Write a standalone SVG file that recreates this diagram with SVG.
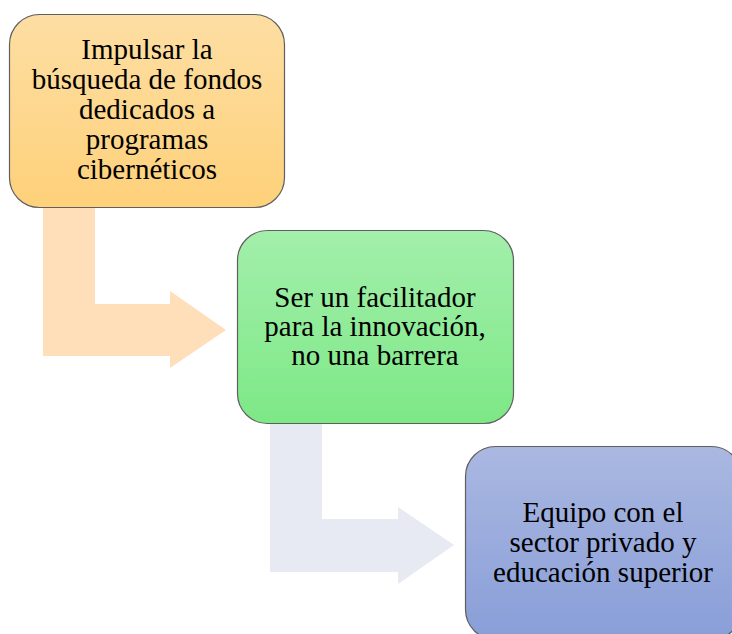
<svg xmlns="http://www.w3.org/2000/svg" width="732" height="634" viewBox="0 0 732 634">
  <defs>
    <linearGradient id="gOrange" x1="0" y1="0" x2="0" y2="1">
      <stop offset="0" stop-color="#FDDEA3"/>
      <stop offset="1" stop-color="#FED17A"/>
    </linearGradient>
    <linearGradient id="gGreen" x1="0" y1="0" x2="0" y2="1">
      <stop offset="0" stop-color="#A3EFAB"/>
      <stop offset="1" stop-color="#7DE886"/>
    </linearGradient>
    <linearGradient id="gBlue" x1="0" y1="0" x2="0" y2="1">
      <stop offset="0" stop-color="#AAB8E1"/>
      <stop offset="1" stop-color="#899ED8"/>
    </linearGradient>
  </defs>
  <style>
    .box { stroke: #5f5f5f; stroke-width: 1.2; }
    text { font-family: 'Liberation Serif', 'DejaVu Serif', serif; font-size: 29px; fill: #000; text-anchor: middle; }
  </style>
  <rect width="732" height="634" fill="#ffffff"/>
  <g id="connectors">
    <path d="M43,207 L95,207 L95,304 L170,304 L170,291 L226,330 L170,368 L170,356 L43,356 Z" fill="#FFDFB9"/>
    <path d="M270,423 L322,423 L322,519 L398,519 L398,507 L454,545 L398,584 L398,572 L270,572 Z" fill="#E8EAF3"/>
  </g>
  <g id="node1" font-family="Liberation Serif, serif">
    <rect class="box" x="9.5" y="14.5" width="275" height="193" rx="30" fill="url(#gOrange)"/>
    <text x="147" y="59">Impulsar la</text>
    <text x="147" y="89">búsqueda de fondos</text>
    <text x="147" y="119">dedicados a</text>
    <text x="147" y="149">programas</text>
    <text x="147" y="179">cibernéticos</text>
  </g>
  <g id="node2">
    <rect class="box" x="237.5" y="230.5" width="276" height="193" rx="30" fill="url(#gGreen)"/>
    <text x="375" y="307">Ser un facilitador</text>
    <text x="375" y="336">para la innovación,</text>
    <text x="375" y="365">no una barrera</text>
  </g>
  <g id="node3">
    <rect class="box" x="465.5" y="446.5" width="276" height="193" rx="30" fill="url(#gBlue)"/>
    <text x="603" y="522">Equipo con el</text>
    <text x="603" y="552">sector privado y</text>
    <text x="603" y="582">educación superior</text>
  </g>
</svg>
